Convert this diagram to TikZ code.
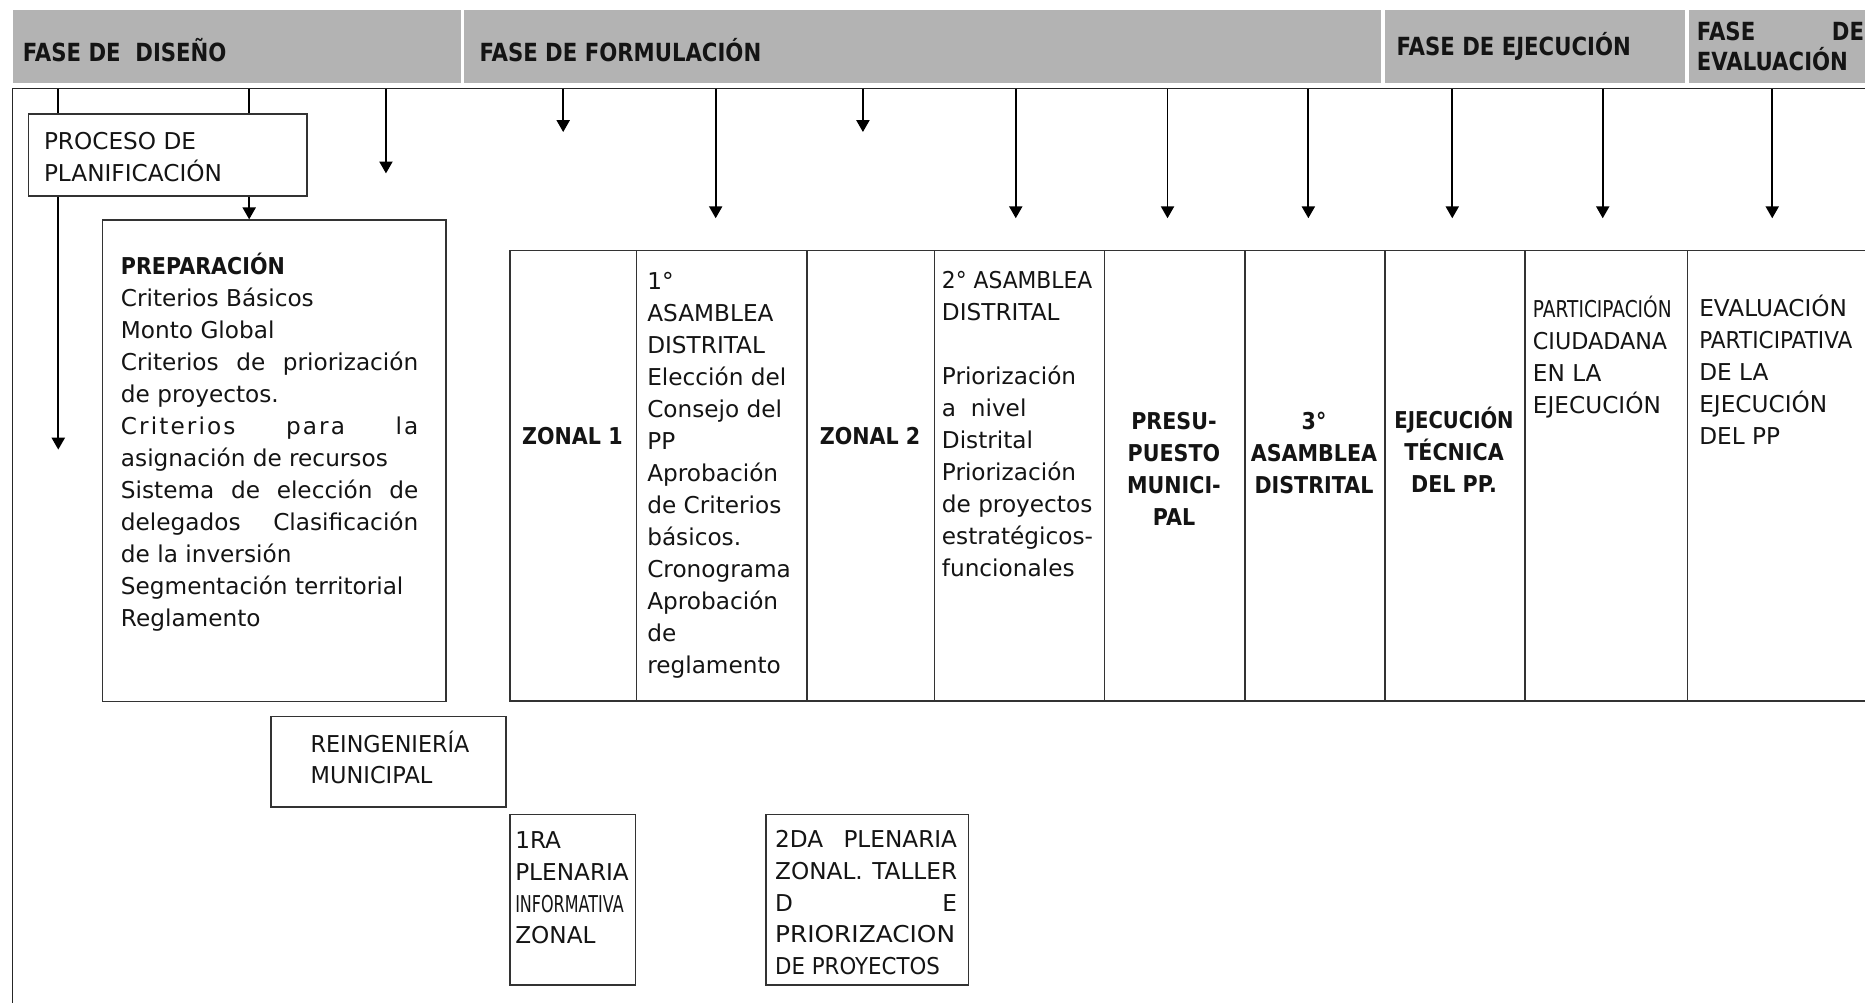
\documentclass[tikz,border=0pt]{standalone}
\usepackage{fontspec}
\usepackage{graphicx}
\setmainfont{DejaVu Sans}
\newfontfamily\bdcf{DejaVu Sans}[FakeStretch=0.89]
\newfontfamily\hdcf{DejaVu Sans}[FakeStretch=0.85]
\usetikzlibrary{arrows.meta}
\definecolor{band}{RGB}{179,179,179}
\definecolor{ink}{RGB}{20,20,20}
\newcommand\rg{\fontsize{19.5}{26.9}\selectfont}
\newcommand\bd{\bdcf\fontsize{19.5}{26.9}\selectfont\bfseries}
\newcommand\hd{\hdcf\fontsize{21}{26}\selectfont\bfseries}
\newcommand\cln[1]{\hbox to 0pt{\hss#1\hss}}
\newcommand\sx[2]{\scalebox{#1}[1]{#2}}
\tikzset{
  frame/.style={draw=black!85, line width=1.4pt},
  boxn/.style={draw=black!80, line width=1.4pt, inner sep=0pt, anchor=north west},
  hcell/.style={fill=band, inner sep=0pt, anchor=north west, minimum height=61.6pt},
  arr/.style={line width=1.5pt, -{Triangle[width=11pt,length=10pt]}},
  ln/.style={line width=1.5pt},
  txt/.style={inner sep=0pt, anchor=base west, text=ink},
  ctxt/.style={inner sep=0pt, anchor=base, text=ink},
}
\begin{document}
\begin{tikzpicture}[x=1pt,y=-1pt]
\useasboundingbox (0,0) rectangle (1568,843);
\clip (0,0) rectangle (1568,843);
% header band
\node[hcell, minimum width=376.5pt] (h1) at (10.5,8.4) {};
\node[hcell, minimum width=771.5pt] (h2) at (389.5,8.4) {};
\node[hcell, minimum width=252.5pt] (h3) at (1164,8.4) {};
\node[hcell, minimum width=160pt] (h4) at (1419.5,8.4) {};
\node[txt, font=\hd] (ht1) at (19,52) {FASE DE\ \ DISEÑO};
\node[txt, font=\hd] (ht2) at (403,52) {FASE DE FORMULACIÓN};
\node[txt, font=\hd] (ht3) at (1174,47) {FASE DE EJECUCIÓN};
\node[txt, font=\hd] (ht4) at (1426.5,34.2) {\vtop{\baselineskip=24.7pt\hbox to 140.5pt{FASE\hfill DE}\hbox{EVALUACIÓN}}};
% frame
\coordinate (fbl) at (10.5,843);
\coordinate (ftl) at (10.5,74.5);
\coordinate (ftr) at (1568,74.5);
\draw[frame] (fbl) -- (ftl) -- (ftr);
% boxes
\node[boxn, minimum width=234.2pt, minimum height=68.7pt] (proc) at (23.3,95.3) {};
\node[boxn, minimum width=288.5pt, minimum height=404.6pt] (prep) at (85.5,184.4) {};
\node[boxn, minimum width=197.2pt, minimum height=76.3pt] (reing) at (227.4,601.7) {};
\node[boxn, minimum width=105.5pt, minimum height=143.3pt] (pl1) at (428,684) {};
\node[boxn, minimum width=170pt, minimum height=143.3pt] (pl2) at (643.5,684) {};
% table cells
\node[boxn, minimum width=106.5pt, minimum height=378.5pt] (c1) at (428,210) {};
\node[boxn, minimum width=143.5pt, minimum height=378.5pt] (c2) at (534.5,210) {};
\node[boxn, minimum width=107pt, minimum height=378.5pt] (c3) at (678,210) {};
\node[boxn, minimum width=143pt, minimum height=378.5pt] (c4) at (785,210) {};
\node[boxn, minimum width=118pt, minimum height=378.5pt] (c5) at (928,210) {};
\node[boxn, minimum width=117.5pt, minimum height=378.5pt] (c6) at (1046,210) {};
\node[boxn, minimum width=118pt, minimum height=378.5pt] (c7) at (1163.5,210) {};
\node[boxn, minimum width=136.5pt, minimum height=378.5pt] (c8) at (1281.5,210) {};
\node[boxn, minimum width=200pt, minimum height=378.5pt] (c9) at (1418,210) {};
% arrows
\coordinate (a1) at (49,74.5);
\coordinate (a2) at (209.5,74.5);
\coordinate (a3) at (324.5,74.5);
\coordinate (a4) at (473.5,74.5);
\coordinate (a5) at (601.7,74.5);
\coordinate (a6) at (725.5,74.5);
\coordinate (a7) at (854,74.5);
\coordinate (a8) at (981.6,74.5);
\coordinate (a9) at (1100,74.5);
\coordinate (a10) at (1221,74.5);
\coordinate (a11) at (1347.5,74.5);
\coordinate (a12) at (1490,74.5);
\coordinate (e1) at (49,378);
\coordinate (e3) at (324.5,145.8);
\coordinate (e4) at (473.5,111);
\coordinate (e5) at (601.7,183.5);
\coordinate (e6) at (725.5,111);
\coordinate (e7) at (854,183.5);
\coordinate (e8) at (981.6,183.5);
\coordinate (e9) at (1100,183.5);
\coordinate (e10) at (1221,183.5);
\coordinate (e11) at (1347.5,183.5);
\coordinate (e12) at (1490,183.5);
\draw[ln] (a1) -- (a1 |- proc.north);
\draw[arr] (a1 |- proc.south) -- (e1);
\draw[ln] (a2) -- (a2 |- proc.north);
\draw[arr] (a2 |- proc.south) -- (a2 |- prep.north);
\foreach \k in {3,...,12} {\draw[arr] (a\k) -- (e\k);}
% texts
\node[txt] (proct) at (36.8,126) {\rg\vtop{\baselineskip=26.5pt\hbox{PROCESO DE}\hbox{PLANIFICACIÓN}}};
\node[txt] (prept) at (101.5,230.5) {\rg\vtop{%
 \hbox{\bd PREPARACIÓN}%
 \hbox{Criterios Básicos}%
 \hbox{Monto Global}%
 \hbox to 250pt{Criterios\hfill de\hfill priorización}%
 \hbox{de proyectos.}%
 \hbox to 250pt{\addfontfeature{LetterSpace=9}Criterios\hfill para\hfill la}%
 \hbox{asignación de recursos}%
 \hbox to 250pt{Sistema\hfill de\hfill elección\hfill de}%
 \hbox to 250pt{delegados\hfill Clasificación}%
 \hbox{de la inversión}%
 \hbox{Segmentación territorial}%
 \hbox{Reglamento}}};
\node[txt] (reingt) at (261,632.7) {\rg\vtop{\baselineskip=26pt\hbox{\sx{0.96}{REINGENIERÍA}}\hbox{\sx{0.97}{MUNICIPAL}}}};
\node[txt] (pl1t) at (433,713.5) {\rg\vtop{\baselineskip=26.7pt\hbox{1RA}\hbox{PLENARIA}\hbox{\sx{0.69}{INFORMATIVA}}\hbox{ZONAL}}};
\node[txt] (pl2t) at (651.5,712.6) {\rg\vtop{\baselineskip=26.7pt%
 \hbox to 153pt{2DA\hfill PLENARIA}%
 \hbox to 153pt{ZONAL.\hfill TALLER}%
 \hbox to 153pt{D\hfill E}%
 \hbox to 153pt{\sx{1.07}{PRIORIZACION}\hss}%
 \hbox{\sx{0.92}{DE PROYECTOS}}}};
\node[ctxt, font=\bd] (z1) at (481.25,374) {ZONAL 1};
\node[ctxt, font=\bd] (z2) at (731.5,374) {ZONAL 2};
\node[txt] (c2t) at (544,243.8) {\rg\vtop{%
 \hbox{1°}\hbox{ASAMBLEA}\hbox{DISTRITAL}\hbox{Elección del}\hbox{Consejo del}%
 \hbox{PP}\hbox{Aprobación}\hbox{de Criterios}\hbox{básicos.}\hbox{Cronograma}%
 \hbox{Aprobación}\hbox{de}\hbox{reglamento}}};
\node[txt] (c4t) at (791.7,242.4) {\rg\vtop{%
 \hbox{\sx{0.94}{2° ASAMBLEA}}\hbox{DISTRITAL}\hbox{}\hbox{Priorización}\hbox{a\ \ nivel}%
 \hbox{Distrital}\hbox{Priorización}\hbox{de proyectos}\hbox{estratégicos-}\hbox{funcionales}}};
\node[ctxt] (c5t) at (987,361) {\bd\vtop{\cln{PRESU-}\cln{PUESTO}\cln{MUNICI-}\cln{PAL}}};
\node[ctxt] (c6t) at (1104.75,361) {\bd\vtop{\cln{3°}\cln{ASAMBLEA}\cln{DISTRITAL}}};
\node[ctxt] (c7t) at (1222.5,360.5) {\bd\vtop{\cln{\sx{0.95}{EJECUCIÓN}}\cln{TÉCNICA}\cln{DEL PP.}}};
\node[txt] (c8t) at (1288.6,267) {\rg\vtop{\hbox{\sx{0.8}{PARTICIPACIÓN}}\hbox{\sx{0.96}{CIUDADANA}}\hbox{EN LA}\hbox{EJECUCIÓN}}};
\node[txt] (c9t) at (1428.5,266) {\rg\vtop{\hbox{EVALUACIÓN}\hbox{\sx{0.93}{PARTICIPATIVA}}\hbox{DE LA}\hbox{EJECUCIÓN}\hbox{DEL PP}}};
\end{tikzpicture}
\end{document}
